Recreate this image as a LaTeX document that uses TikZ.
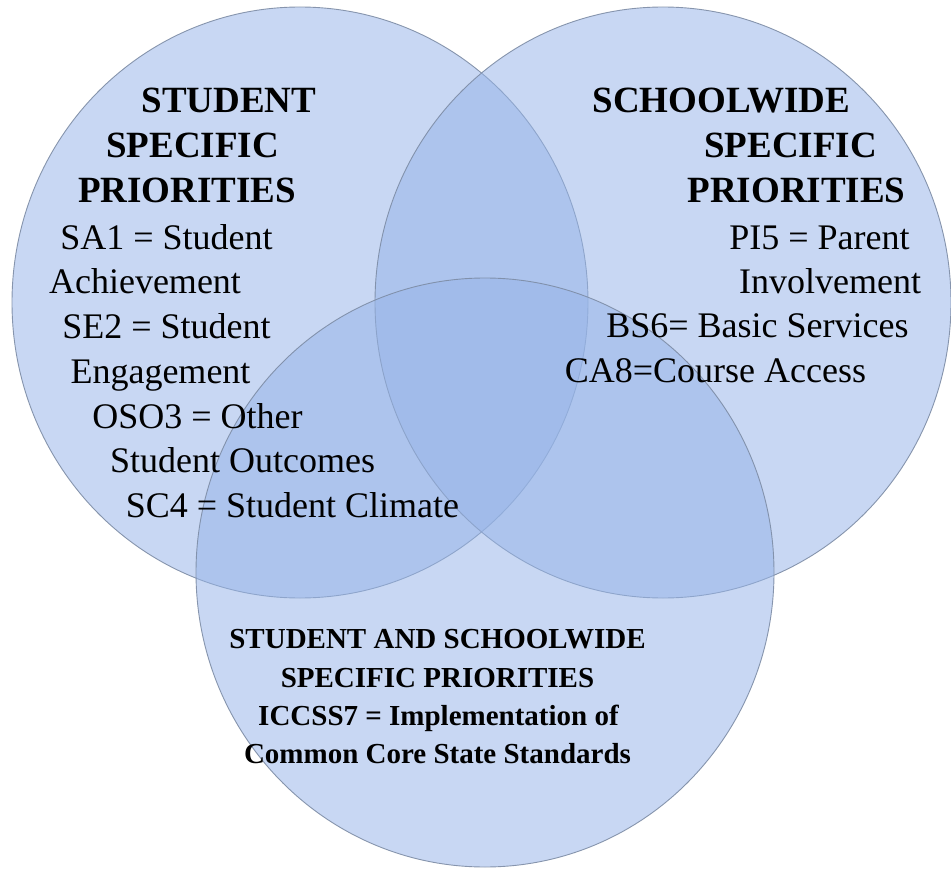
\documentclass[tikz,border=0pt]{standalone}
\usepackage{fontspec}
\setmainfont{Liberation Serif}
\definecolor{vennfill}{RGB}{150,180,232}
\definecolor{vennline}{RGB}{125,140,165}
\begin{document}
\begin{tikzpicture}[x=1pt,y=-1pt,
  venn/.style={fill=vennfill, fill opacity=0.52, draw=vennline, draw opacity=0.9, line width=0.9pt},
  head/.style={font=\fontsize{37}{44}\selectfont\bfseries, anchor=base, inner sep=0pt, text=black},
  body/.style={font=\fontsize{36}{44}\selectfont, anchor=base, inner sep=0pt, text=black},
  bot/.style={font=\fontsize{29}{38}\selectfont\bfseries, anchor=base, inner sep=0pt, text=black}]
\useasboundingbox (0,0) rectangle (951,872);
\fill[white] (0,0) rectangle (951,872);
% circles
\path[venn] (300,302.5) ellipse [x radius=288pt, y radius=295.5pt];
\path[venn] (663,302.5) ellipse [x radius=288pt, y radius=295.5pt];
\path[venn] (485,572.5) ellipse [x radius=289pt, y radius=294.5pt];
% left circle text
\node[head] (l1) at (229,113) {STUDENT};
\node[head] (l2) at (192.5,158) {SPECIFIC};
\node[head] (l3) at (187,203) {PRIORITIES};
\node[body] (l4) at (166.5,249) {SA1 = Student};
\node[body] (l5) at (145,293) {Achievement};
\node[body] (l6) at (166.5,338) {SE2 = Student};
\node[body] (l7) at (160.5,383) {Engagement};
\node[body] (l8) at (197.5,428) {OSO3 = Other};
\node[body] (l9) at (242.5,472) {Student Outcomes};
\node[body] (l10) at (292.5,517) {SC4 = Student Climate};
% right circle text
\node[head] (r1) at (721.5,113) {SCHOOLWIDE};
\node[head] (r2) at (790.5,158) {SPECIFIC};
\node[head] (r3) at (796.5,203) {PRIORITIES};
\node[body] (r4) at (819.5,249) {PI5 = Parent};
\node[body] (r5) at (830,293) {Involvement};
\node[body] (r6) at (757.5,337) {BS6= Basic Services};
\node[body] (r7) at (715.5,382) {CA8=Course Access};
% bottom circle text
\node[bot] (b1) at (437.5,648) {STUDENT AND SCHOOLWIDE};
\node[bot] (b2) at (437.5,687) {SPECIFIC PRIORITIES};
\node[bot] (b3) at (438.5,725) {ICCSS7 = Implementation of};
\node[bot] (b4) at (437.5,763) {Common Core State Standards};
\end{tikzpicture}
\end{document}
